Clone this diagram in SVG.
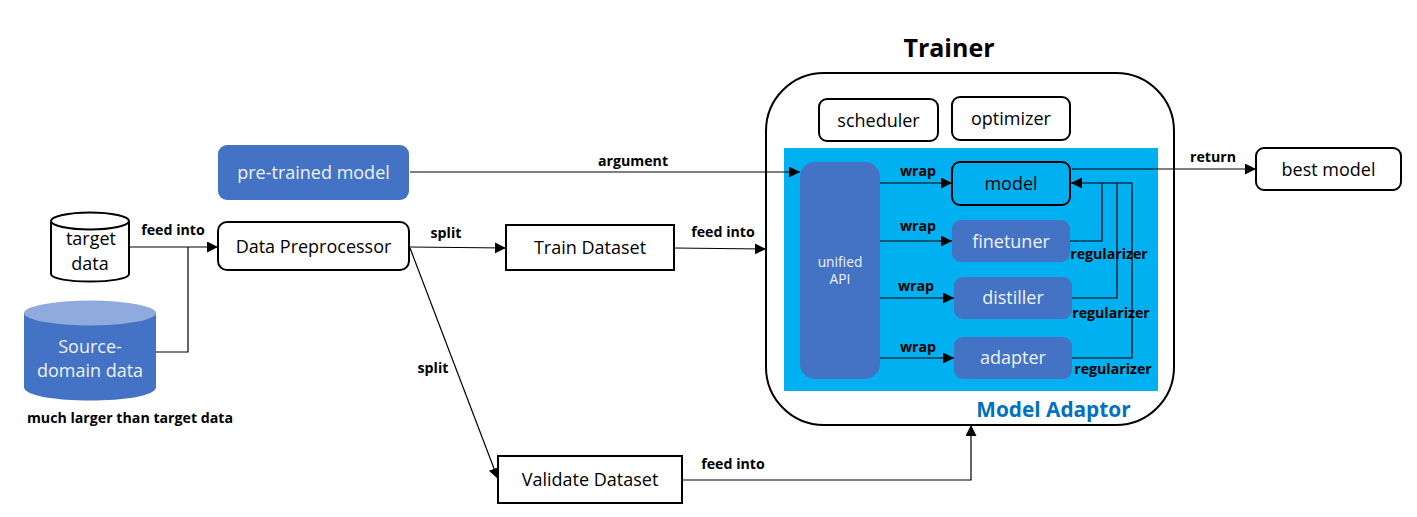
<svg xmlns="http://www.w3.org/2000/svg" width="1417" height="517" viewBox="0 0 1417 517">
<style>
text{font-family:"Open Sans","Noto Sans","Liberation Sans",sans-serif;text-anchor:middle}
.n{font-size:18px;fill:#000}
.w{font-size:18px;fill:#eef2fa}
.l{font-size:14.200px;font-weight:700;fill:#000}
.box{fill:#fff;stroke:#000;stroke-width:2}
.blue{fill:#4472c4}
.c{fill:none;stroke:#000;stroke-width:1.2}
</style>
<defs><marker id="a" markerUnits="userSpaceOnUse" markerWidth="12" markerHeight="12" refX="11" refY="5.5" orient="auto"><path d="M0 0L11 5.5L0 11Z" fill="#000"/></marker></defs>
<rect width="1417" height="517" fill="#fff"/>
<g id="trainer"><text x="949" y="57" style="font-size:25px;font-weight:700">Trainer</text><rect x="766" y="73" width="408" height="352" rx="58" class="box"/></g>
<g id="model-adaptor"><rect x="784" y="148" width="374" height="243" fill="#00b0f0"/><text x="1053.500" y="417" style="font-size:20.800px;font-weight:700;fill:#0070c0">Model Adaptor</text></g>
<g id="scheduler"><rect x="819" y="99" width="119" height="42" rx="8" class="box"/><text x="878.500" y="127" class="n">scheduler</text></g>
<g id="optimizer"><rect x="952" y="97" width="118" height="43" rx="8" class="box"/><text x="1011" y="125" class="n">optimizer</text></g>
<g id="unified-api"><rect x="800" y="162" width="80" height="217" rx="15" class="blue"/><text x="840" y="267" style="font-size:13.800px;fill:#eef2fa">unified</text><text x="840" y="284" style="font-size:13.800px;fill:#eef2fa">API</text></g>
<g id="model"><rect x="952" y="162" width="118" height="43" rx="8" fill="#00b0f0" stroke="#000" stroke-width="2"/><text x="1011" y="190" class="n">model</text></g>
<g id="finetuner"><rect x="952" y="220" width="118" height="42" rx="9" class="blue"/><text x="1011" y="248" class="w">finetuner</text></g>
<g id="distiller"><rect x="954" y="277" width="118" height="42" rx="9" class="blue"/><text x="1013" y="304" class="w">distiller</text></g>
<g id="adapter"><rect x="954" y="337" width="118" height="42" rx="9" class="blue"/><text x="1013" y="364" class="w">adapter</text></g>
<g id="pre-trained-model"><rect x="218" y="145" width="191" height="55" rx="9" class="blue"/><text x="313.500" y="179" class="w">pre-trained model</text></g>
<g id="target-data"><path d="M51 222V274C51 284 129 284 129 274V222" fill="#fff" stroke="#000" stroke-width="2"/><ellipse cx="90" cy="221" rx="39" ry="8.500" class="box"/><text x="91" y="245" class="n">target</text><text x="90" y="270" class="n">data</text></g>
<g id="source-domain-data"><path d="M24 313V387C24 405 156 405 156 387V313Z" class="blue"/><ellipse cx="90" cy="313" rx="66" ry="12.500" fill="#8faadc"/><text x="90" y="353" class="w">Source-</text><text x="90" y="377" class="w">domain data</text></g>
<text x="130" y="423" class="l">much larger than target data</text>
<g id="data-preprocessor"><rect x="218" y="222" width="191" height="48" rx="9" class="box"/><text x="313.500" y="253" class="n">Data Preprocessor</text></g>
<g id="train-dataset"><rect x="506" y="225" width="168" height="45" class="box"/><text x="590" y="254" class="n">Train Dataset</text></g>
<g id="validate-dataset"><rect x="498" y="456" width="184" height="47" class="box"/><text x="590" y="486" class="n">Validate Dataset</text></g>
<g id="best-model"><rect x="1256" y="148" width="145" height="42" rx="8" class="box"/><text x="1328.500" y="176" class="n">best model</text></g>
<g id="connectors">
<path class="c" d="M129 247H218" marker-end="url(#a)"/>
<path class="c" d="M156 352H188V247"/>
<path class="c" d="M410 172H800" marker-end="url(#a)"/>
<path class="c" d="M410 247L506 248" marker-end="url(#a)"/>
<path class="c" d="M410 248L498 479" marker-end="url(#a)"/>
<path class="c" d="M674 248L766 249" marker-end="url(#a)"/>
<path class="c" d="M682 480H971V425" marker-end="url(#a)"/>
<path class="c" d="M880 183H952" marker-end="url(#a)"/>
<path class="c" d="M880 241H952" marker-end="url(#a)"/>
<path class="c" d="M880 298H954" marker-end="url(#a)"/>
<path class="c" d="M880 358H954" marker-end="url(#a)"/>
<path class="c" d="M1132 183H1071" marker-end="url(#a)"/>
<path class="c" d="M1070 241H1102V183"/>
<path class="c" d="M1072 298H1117V183"/>
<path class="c" d="M1072 358H1132V183"/>
<path class="c" d="M1072 169H1256" marker-end="url(#a)"/>
</g>
<g id="labels">
<text x="173" y="235" class="l">feed into</text>
<text x="446" y="238" class="l">split</text>
<text x="433" y="373" class="l">split</text>
<text x="633" y="166" class="l">argument</text>
<text x="723" y="237" class="l">feed into</text>
<text x="733" y="469" class="l">feed into</text>
<text x="918" y="176" class="l">wrap</text>
<text x="918" y="231" class="l">wrap</text>
<text x="916" y="291" class="l">wrap</text>
<text x="918" y="352" class="l">wrap</text>
<text x="1213" y="162" class="l">return</text>
<text x="1109" y="259" class="l">regularizer</text>
<text x="1111" y="318" class="l">regularizer</text>
<text x="1113" y="374" class="l">regularizer</text>
</g>
</svg>
